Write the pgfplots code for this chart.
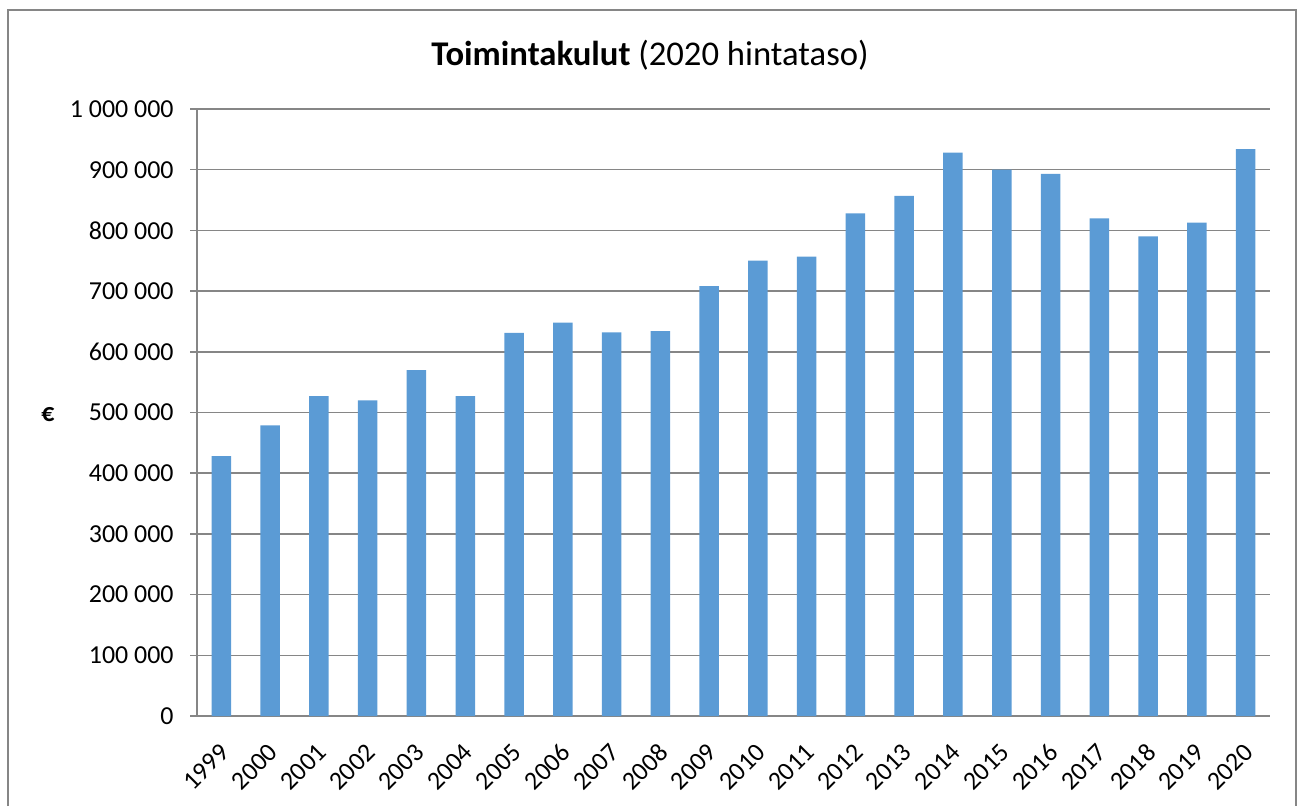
\documentclass[border=0pt]{standalone}
\usepackage{fontspec}
\setmainfont{Carlito}
\usepackage{pgfplots}
\pgfplotsset{compat=1.18}
\definecolor{barblue}{HTML}{5B9BD5}
\definecolor{gridgray}{HTML}{868686}

\begin{document}
\begin{tikzpicture}[x=1bp,y=1bp]
\path[use as bounding box] (0,0) rectangle (650.5,403);
% chart frame
\draw[gridgray, line width=0.6bp] (4,0) -- (4,398) -- (648,398) -- (648,0);
\node[font=\fontsize{17.4}{21}\selectfont] at (325,375.5) {\textbf{Toimintakulut} (2020 hintataso)};
\node[font=\fontsize{13}{15}\selectfont\bfseries] at (24,195.5) {€};
\begin{axis}[
    at={(98.5bp,45bp)}, anchor=south west,
    scale only axis,
    width=536.5bp, height=303.5bp,
    ybar, bar width=9.75bp,
    xmin=-0.5, xmax=21.5, ymin=0, ymax=1000000,
    enlarge x limits=false,
    axis lines=left,
    axis line style={-, draw=gridgray, line width=0.75bp},
    xtick={0,...,21},
    xticklabels={1999,2000,2001,2002,2003,2004,2005,2006,2007,2008,2009,2010,
                 2011,2012,2013,2014,2015,2016,2017,2018,2019,2020},
    x tick style={draw=none},
    ytick={0,100000,...,1000000},
    yticklabels={0,100 000,200 000,300 000,400 000,500 000,600 000,700 000,
                 800 000,900 000,1 000 000},
    scaled y ticks=false,
    y tick style={draw=gridgray, line width=0.75bp},
    ytick align=outside,
    major tick length=3.5bp,
    ymajorgrids,
    grid style={draw=gridgray, line width=0.75bp},
    ticklabel style={font=\fontsize{13}{15}\selectfont},
    yticklabel style={anchor=east, xshift=-4.7bp},
    xticklabel style={xshift=4bp, yshift=-12bp, rotate=45, anchor=east},
]
\addplot[fill=barblue, draw=none] coordinates {
    (0,428000) (1,479000) (2,527000) (3,520000) (4,570000) (5,527000)
    (6,631000) (7,648000) (8,632000) (9,634000) (10,708000) (11,750000)
    (12,757000) (13,828000) (14,857000) (15,928000) (16,900000) (17,893000)
    (18,820000) (19,790000) (20,813000) (21,934000)
};
\end{axis}
\end{tikzpicture}
\end{document}
